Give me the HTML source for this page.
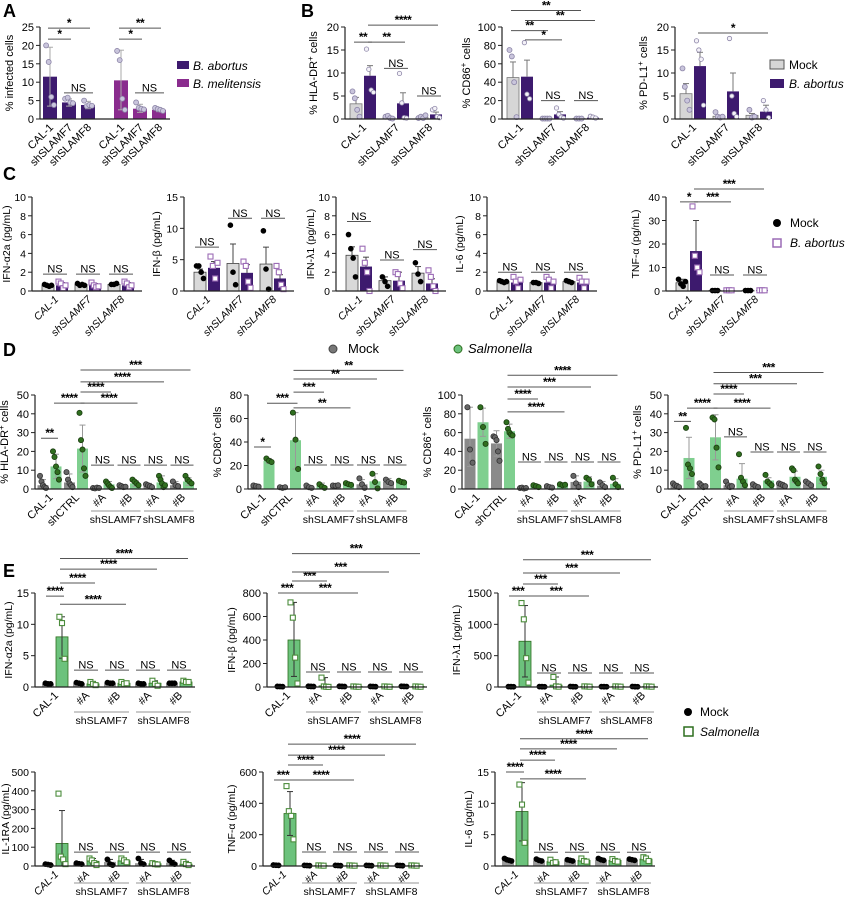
<!DOCTYPE html>
<html><head><meta charset="utf-8"><style>
html,body{margin:0;padding:0;background:#fff}
svg{display:block;font-family:"Liberation Sans",Arial,sans-serif}
</style></head><body>
<svg id="fig" width="845" height="900" viewBox="0 0 845 900" xmlns="http://www.w3.org/2000/svg">
<g font-weight="bold" font-size="18">
<text x="3" y="17">A</text>
<text x="301" y="17">B</text>
<text x="3" y="180">C</text>
<text x="3" y="356">D</text>
<text x="3" y="577">E</text>
</g>
<g font-size="12">
<rect x="177" y="61" width="12" height="8" fill="#3d1a6e"/>
<text x="193" y="70" font-style="italic">B. abortus</text>
<rect x="177" y="79" width="12" height="8" fill="#8a2c8e"/>
<text x="193" y="88" font-style="italic">B. melitensis</text>
</g>
<g font-size="12">
<rect x="770" y="60" width="14" height="9" fill="#d6d6d6" stroke="#555"/>
<text x="789" y="69">Mock</text>
<rect x="770" y="79" width="14" height="9" fill="#3d1a6e"/>
<text x="789" y="88" font-style="italic">B. abortus</text>
</g>
<g font-size="12">
<circle cx="777" cy="223" r="4" fill="#000"/>
<text x="790" y="227">Mock</text>
<rect x="773" y="239" width="8" height="8" fill="#fff" stroke="#9b6bb5" stroke-width="1.5"/>
<text x="790" y="247" font-style="italic">B. abortus</text>
</g>
<g font-size="13">
<circle cx="333" cy="349" r="4" fill="#777" stroke="#444"/>
<text x="348" y="353">Mock</text>
<circle cx="458" cy="349" r="4" fill="#6cc27c" stroke="#2d6e1e"/>
<text x="468" y="353" font-style="italic">Salmonella</text>
</g>
<g font-size="12">
<circle cx="688" cy="712" r="4" fill="#000"/>
<text x="700" y="716">Mock</text>
<rect x="684" y="727" width="9" height="9" fill="#fff" stroke="#2d6e1e" stroke-width="1.5"/>
<text x="700" y="736" font-style="italic">Salmonella</text>
</g>
</svg>
<script>
// ---------- DATA ----------
const A_cats=['CAL-1','shSLAMF7','shSLAMF8','CAL-1','shSLAMF7','shSLAMF8'];
const A_means=[11.5,4.5,3.8,10.5,2.8,2.5];
const A_hi=[19.5,5.5,4.8,18.7,4,3];
const A_lo=[3.5,3.5,2.8,2.5,1.8,2];
const A_pts=[[20,15.5,6,3.8],[5.5,5.8,4.5,4.3],[5,3.5,3.8,3.6],[18.5,16,5.5,2.5],[4.5,3,2.8,2.6],[3,2.7,2.5,2.2]];
const A_br=[[0,1,21.7,'*'],[0,2,24.7,'*'],[1,2,7.1,'NS'],[3,4,21.7,'*'],[3,5,24.7,'**'],[4,5,7.1,'NS']];

const B_cats=['CAL-1','shSLAMF7','shSLAMF8'];
const B1_means=[3.3,9.4,0.3,3.4,0.3,1];
const B1_hi=[4.7,11.6,0.4,5.7,0.4,1.5];
const B1_pts=[[6,4.5,2,0.5],[15.2,10.8,6.3,5.8],[0.5,0.7,0.2,0.1],[9.9,3.5,0.3,0.2],[0.2,0.5,0.2,0.8],[2,2.3,0.5,0.3]];
const B1_br=[[0,1,16.7,'**'],[1,3,16.7,'**'],[1,5,20.4,'****'],[2,3,11,'NS'],[4,5,5,'NS']];
const B2_means=[45,46,0.5,5,0.5,1.5];
const B2_hi=[62,64,0.6,8,0.6,2.5];
const B2_pts=[[75,68,40,2],[83,27,22],[0.5,0.5,0.5,0.5],[12,5,2,1],[0.5,0.5,0.5],[3,2,1]];
const B2_br=[[0,4,118,'**'],[1,5,107,'**'],[0,2,96,'**'],[1,3,86,'*'],[2,3,20,'NS'],[4,5,20,'NS']];
const B3_means=[5.5,11.5,0.6,6,0.8,1.6];
const B3_hi=[7.7,14.5,0.8,10,1.2,3];
const B3_pts=[[11,7,4,2],[17,15,13,3],[1.5,0.5,0.3,0.5],[17.5,5,1.2,0.5],[2,0.3,0.5],[4,2,0.3]];
const B3_br=[[1,5,18.7,'*']];

const C1_means=[0.6,0.6,0.7,0.6,0.7,0.6];
const C1_hi=[0.7,0.9,0.8,0.8,0.8,0.9];
const C1_pts=[[0.7,0.6,0.5,0.6],[1,0.8,0.3,0.6],[0.8,0.6,0.7,0.6],[0.9,0.6,0.4,0.5],[0.7,0.7,0.8],[1,0.8,0.4,0.6]];
const C1_br=[[0,1,1.8,'NS'],[2,3,1.8,'NS'],[4,5,1.8,'NS']];
const C2_means=[3,3.7,4.4,2.9,4.3,2];
const C2_hi=[3.5,4.7,7.5,4.2,7,2.6];
const C2_pts=[[4,4,3,2],[5.5,4,2,4.5],[10.5,3,1],[4.7,4,1.5,0.5],[9.6,3.5,0.3],[4,3,1,0.3]];
const C2_br=[[0,1,7,'NS'],[2,3,11.6,'NS'],[4,5,11.6,'NS']];
const C3_means=[3.8,2.6,1.1,1.1,1.9,0.8];
const C3_hi=[4.7,3.6,1.5,2,2.6,1.3];
const C3_pts=[[6,4.5,3.5,1.5],[4.5,3,2,0],[1.5,1,0.5],[2,1.8,0.8,0.3],[3,1.8,1],[2.2,1.5,0.5,0]];
const C3_br=[[0,1,7.4,'NS'],[2,3,3.3,'NS'],[4,5,4.4,'NS']];
const C4_means=[1,0.9,0.9,0.9,1,0.9];
const C4_hi=[1.1,1.2,1,1.2,1.1,1.2];
const C4_pts=[[1.1,1,0.9,1],[1.5,1,0.3,1.2],[0.9,0.9,0.8],[1.5,1.2,0.3,1],[1.1,1,0.9],[1.4,1,0.3,1]];
const C4_br=[[0,1,2,'NS'],[2,3,2,'NS'],[4,5,2,'NS']];
const C5_means=[3.5,17,0.2,0.3,0.2,0.3];
const C5_hi=[5,30,0.3,0.4,0.3,0.4];
const C5_pts=[[5,3,2,4],[36,15,10,8],[0.2,0.2,0.2],[0.3,0.3,0.3],[0.2,0.2,0.2],[0.3,0.3,0.3]];
const C5_br=[[0,1,37.9,'*'],[1,3,37.9,'***'],[1,5,43.4,'***'],[2,3,6.8,'NS'],[4,5,6.8,'NS']];

const D_cats=['CAL-1','shCTRL','#A','#B','#A','#B'];
const D1_means=[2,12,3.5,21.5,0.5,2.5,1.5,3,2,3.5,2,4];
const D1_hi=[5,18.5,8,34,0.8,4,2,4.5,3,7,4,6];
const D1_lo=[0,5.5,0,9,0.2,1,1,1.5,1,0,0,2];
const D1_pts=[[7,4,2,1,0.5],[20,17,12,9,5],[9,5,3,2,1],[40.5,26,21,11,7],[0.5,0.3,0.7,0.5],[4,3,2,1,0.5],[2,1.5,1,1.2],[5,4,3,2],[2.5,2,1.5,1],[7,5,3,1,2],[4,2,1.5],[7,5,4,3]];
const D1_br=[[3,11,63.3,'***'],[3,9,57,'****'],[3,5,51.6,'****'],[1,3,45.7,'****'],[3,7,45.7,'****'],[0,1,27,'**'],[4,5,12.7,'NS'],[6,7,12.7,'NS'],[8,9,12.7,'NS'],[10,11,12.7,'NS']];
const D2_means=[2.5,24,1.5,41.5,1.5,2.5,3,4,4,6.5,6,6.5];
const D2_hi=[3.5,26,2,65,3,5,3.5,5,8,13,9,8];
const D2_lo=[1.5,22,1,17,0.5,0,2.5,3,0,0,3,5];
const D2_pts=[[3,2.5,2],[26,24,23],[1.5,1,1.5],[65,42,17],[3,1.5,1],[4,2,1],[3,2.8,3.2],[5,4,3.5],[9,4,1],[13,6,0.5],[8,6,5],[7,6,5.5]];
const D2_br=[[3,11,101,'**'],[3,9,93.6,'**'],[3,5,82.5,'***'],[1,3,73,'***'],[3,7,69,'**'],[0,1,35.7,'*'],[4,5,20.4,'NS'],[6,7,20.4,'NS'],[8,9,20.4,'NS'],[10,11,20.4,'NS']];
const D3_means=[53.5,71,48.5,61.5,1,3,2,4,7.5,8,3.5,5.5];
const D3_hi=[87,86,62,69,2,5,3,5,14,13,8,11];
const D3_lo=[24,56,35,54,0.5,1,1,3,1,3,0,0];
const D3_pts=[[87,42,28],[87,66,48],[56,55,52,40,30],[71,64,60,58,57],[1,1.5,0.5,1],[4,3,2],[3,2,1.5],[5,4,4.5],[14,6,2],[12,10,5],[7,4,2],[12,5,2]];
const D3_br=[[3,11,121,'****'],[3,9,108.5,'***'],[3,5,95.7,'****'],[3,7,82,'****'],[4,5,28.7,'NS'],[6,7,28.7,'NS'],[8,9,28.7,'NS'],[10,11,28.7,'NS']];
const D4_means=[2,16.5,1.5,27.5,2,5.5,1.5,4.5,2.5,6.5,2.5,6.5];
const D4_hi=[3,27.5,2.5,39.5,3,13.5,2,6,3.5,9.5,3.5,10];
const D4_lo=[1,5.5,0.5,15.5,1,0,1,3,1.5,3.5,1.5,3];
const D4_pts=[[3,2,1.5,1],[32.5,13,11,8],[3,2,1,1.5],[38,37,22,11.5],[4,2,1,1.5],[18.5,6,4,2],[2.5,1.5,1],[7.5,4,3,2],[3,2.5,2,1.5],[11,10,5,4,3],[4,3,2],[12,8,5,3]];
const D4_br=[[3,11,62,'***'],[3,9,56,'***'],[3,5,50.5,'****'],[1,3,43,'****'],[3,7,43,'****'],[0,1,36,'**'],[4,5,27.7,'NS'],[6,7,19.7,'NS'],[8,9,19.7,'NS'],[10,11,19.7,'NS']];

const E_cats=['CAL-1','#A','#B','#A','#B'];
const E1_means=[0.5,8,0.6,0.5,0.6,0.6,0.5,0.6,0.6,0.8];
const E1_hi=[0.6,11.2,0.7,0.8,0.7,0.7,0.6,1,0.6,1];
const E1_lo=[0.4,4.6,0.5,0.3,0.5,0.5,0.4,0.3,0.5,0.6];
const E1_pts=[[0.6,0.5,0.5],[11.2,10.2,4.5],[0.7,0.6,0.5],[0.8,0.5,0.3],[0.7,0.6,0.6],[0.8,0.5,0.6],[0.6,0.5,0.5],[1,0.5,0.2],[0.6,0.6,0.6],[1,0.8,0.8]];
const E1_br=[[0,1,14.5,'****'],[1,5,13.2,'****'],[1,3,16.6,'****'],[1,7,18.8,'****'],[1,9,20.5,'****'],[2,3,2.7,'NS'],[4,5,2.7,'NS'],[6,7,2.7,'NS'],[8,9,2.7,'NS']];
const E2_means=[5,400,5,10,5,5,5,5,5,5];
const E2_hi=[8,720,10,80,8,8,8,8,8,8];
const E2_lo=[3,90,3,0,3,3,3,3,3,3];
const E2_pts=[[5,4,3],[720,590,250,30],[6,5,4],[80,5,2,1],[6,5,4],[5,3,2],[5,4,3],[5,3,2],[6,5,4],[5,3,2]];
const E2_br=[[0,1,800,'***'],[1,5,800,'***'],[1,3,902,'***'],[1,7,979,'***'],[1,9,1135,'***'],[2,3,128,'NS'],[4,5,128,'NS'],[6,7,128,'NS'],[8,9,128,'NS']];
const E3_means=[5,730,5,30,5,10,5,10,5,10];
const E3_hi=[8,1300,8,160,8,15,8,15,8,15];
const E3_lo=[3,160,3,0,3,5,3,5,3,5];
const E3_pts=[[6,5,4],[1340,1080,460,70],[6,5,4],[160,10,5],[8,5,4],[10,8,5],[6,5,4],[10,8,5],[8,5,4],[10,8,5]];
const E3_br=[[0,1,1452,'***'],[1,5,1452,'***'],[1,3,1643,'***'],[1,7,1819,'***'],[1,9,2030,'***'],[2,3,223,'NS'],[4,5,223,'NS'],[6,7,223,'NS'],[8,9,223,'NS']];
const E4_means=[8,120,12,25,22,28,15,12,18,10];
const E4_hi=[12,295,15,40,35,42,35,18,30,25];
const E4_lo=[4,0,9,10,9,14,0,6,6,0];
const E4_pts=[[10,8,5],[385,50,35,10],[15,12,10],[40,30,15,5],[35,10,5],[40,30,20],[40,15,10],[15,10,8],[30,18,10],[22,10,5]];
const E4_br=[[2,3,74,'NS'],[4,5,74,'NS'],[6,7,74,'NS'],[8,9,74,'NS']];
const E5_means=[5,335,3,3,3,3,3,3,3,3];
const E5_hi=[7,475,4,4,4,4,4,4,4,4];
const E5_lo=[3,195,2,2,2,2,2,2,2,2];
const E5_pts=[[6,5,4],[510,350,320,170],[4,3,2],[4,3,2],[4,3,2],[4,3,2],[4,3,2],[4,3,2],[4,3,2],[4,3,2]];
const E5_br=[[0,1,549,'***'],[1,5,549,'****'],[1,3,645,'****'],[1,7,708,'****'],[1,9,778,'****'],[2,3,89,'NS'],[4,5,89,'NS'],[6,7,89,'NS'],[8,9,89,'NS']];
const E6_means=[1,8.7,0.9,0.7,0.9,0.9,1,0.9,1,1.1];
const E6_hi=[1.2,13.3,1.1,1,1,1.1,1.2,1.2,1.1,1.4];
const E6_lo=[0.8,4,0.7,0.4,0.8,0.7,0.8,0.6,0.9,0.8];
const E6_pts=[[1.2,1,0.9,0.8],[13,9.8,3.7],[1.1,0.9,0.8],[1,0.5,0.6],[1,0.9,0.8],[1.2,0.8,0.7],[1.2,1,0.9],[1.1,0.8,0.7],[1.1,1,0.9],[1.4,1.2,0.8]];
const E6_br=[[0,1,15,'****'],[1,5,13.9,'****'],[1,3,16.9,'****'],[1,7,18.7,'****'],[1,9,20.3,'****'],[2,3,2.2,'NS'],[4,5,2.2,'NS'],[6,7,2.2,'NS'],[8,9,2.2,'NS']];

// ---------- DRAWING ----------
const NS='http://www.w3.org/2000/svg';
const fig=document.getElementById('fig');
function mk(tag,attrs,parent){const e=document.createElementNS(NS,tag);for(const k in attrs)e.setAttribute(k,attrs[k]);(parent||fig).appendChild(e);return e;}

function drawChart(c){
  const g=mk('g',{});
  
  
  const yS=v=>c.y0-v/c.max*(c.y0-c.yt);
  const xS=c.xf||(i=>c.ax+c.first+Math.floor(i/2)*c.sp+(i%2)*c.off);
  c.means.forEach((m,i)=>{
    const st=c.styles[c.single?c.seriesOf[i]:i%2];
    const x=xS(i);
    const r=mk('rect',{x:x-c.bw/2,y:yS(m),width:c.bw,height:Math.max(0,c.y0-yS(m)),fill:st.bar,stroke:st.barStroke||'none','stroke-width':0.8},g);
    
    
    const hi=c.hi[i];
    mk('line',{x1:x,x2:x,y1:yS(m),y2:yS(hi),stroke:st.err,'stroke-width':1},g);
    mk('line',{x1:x-3,x2:x+3,y1:yS(hi),y2:yS(hi),stroke:st.err,'stroke-width':1},g);
    if(c.lo){const lo=c.lo[i];
      mk('line',{x1:x,x2:x,y1:yS(m),y2:yS(lo),stroke:st.err,'stroke-width':1},g);
      mk('line',{x1:x-3,x2:x+3,y1:yS(lo),y2:yS(lo),stroke:st.err,'stroke-width':1},g);}
    const pts=c.pts[i];
    const sp=pts.length>1?Math.min(2.6,(c.bw-5)/(pts.length-1)):0;
    pts.forEach((v,k)=>{
      const px=x+(k-(pts.length-1)/2)*sp;
      let p;
      if(st.shape==='sq') p=mk('rect',{x:px-2.5,y:yS(v)-2.5,width:5,height:5,fill:st.pf,stroke:st.ps,'stroke-width':1.1},g);
      else p=mk('circle',{cx:px,cy:yS(v),r:st.r||2.5,fill:st.pf,stroke:st.ps,'stroke-width':0.8},g);
      
      
    });
  });
  mk('line',{x1:c.ax,x2:c.ax,y1:c.yt,y2:c.y0,stroke:'#222','stroke-width':1.2},g);
  mk('line',{x1:c.ax,x2:c.xEnd,y1:c.y0,y2:c.y0,stroke:'#222','stroke-width':1.2},g);
  for(let v=0;v<=c.max+1e-9;v+=c.step){
    mk('line',{x1:c.ax-4,x2:c.ax,y1:yS(v),y2:yS(v),stroke:'#222','stroke-width':1},g);
    const t=mk('text',{x:c.ax-6,y:yS(v)+4,'text-anchor':'end','font-size':c.tfs||11},g);
    t.textContent=v;
  }
  const yt=mk('text',{transform:`translate(${c.ax-c.ytOff},${(c.y0+c.yt)/2}) rotate(-90)`,'text-anchor':'middle','font-size':c.yfs||11},g);
  
  
  c.ytitle.forEach(p=>{const s=mk('tspan',p[1]?{'baseline-shift':'super','font-size':8}:{},yt);s.textContent=p[0];});
  c.cats.forEach((lab,gi)=>{
    let cx;
    if(c.single) cx=xS(gi); else cx=(xS(gi*2)+xS(gi*2+1))/2;
    const t=mk('text',{transform:`translate(${cx+4},${c.y0+9}) rotate(-45)`,'text-anchor':'end','font-size':c.xfs||11,'font-style':c.italic?'italic':'normal'},g);
    
    
    t.textContent=lab;
  });
  if(c.groups){c.groups.forEach(gr=>{
    const x1=xS(gr[0]*2)-5,x2=xS(gr[1]*2+1)+5;
    mk('line',{x1:x1,x2:x2,y1:c.gy,y2:c.gy,stroke:'#aaa','stroke-width':1.2},g);
    const t=mk('text',{x:(x1+x2)/2,y:c.gy+12,'text-anchor':'middle','font-size':10.5},g);
    
    
    t.textContent=gr[2];
  });}
  c.br.forEach(b=>{
    const isNS=b[3]==='NS';
    const x1=xS(b[0])-(isNS?5:2),x2=xS(b[1])+(isNS?5:2),y=yS(b[2]);
    mk('line',{x1:x1,x2:x2,y1:y,y2:y,stroke:'#555','stroke-width':1},g);
    const t=mk('text',{x:(x1+x2)/2,y:isNS?y-1.5:y-1,'text-anchor':'middle','font-size':isNS?11:12,'font-weight':isNS?'normal':'bold','letter-spacing':isNS?0:-0.5},g);
    
    
    t.textContent=b[3];
  });
}

const PUR='#3d1a6e',MAG='#8a2c8e';
const stA=[{bar:PUR,err:'#aaa',pf:'#c9c5dc',ps:'#8d86a8'},{bar:MAG,err:'#aaa',pf:'#c9c5dc',ps:'#8d86a8'}];
drawChart({name:'chart-a-infected',ax:40,y0:119,yt:27,max:25,step:5,xEnd:170,bw:14,single:true,seriesOf:[0,0,0,1,1,1],
  xf:i=>50+i*19+(i>=3?14:0),styles:stA,means:A_means,hi:A_hi,lo:A_lo,pts:A_pts,br:A_br,cats:A_cats,
  ytitle:[['% infected cells']],ytOff:27});

const stB=[{bar:'#d6d6d6',barStroke:'#777',err:'#777',pf:'#c9c5dc',ps:'#8d86a8'},{bar:PUR,err:'#777',pf:'#f4f2f8',ps:'#8d86a8',r:2.2}];
const Bl={y0:119,yt:27,first:11,off:14,sp:33,bw:12,styles:stB,cats:B_cats,ytOff:28};
drawChart(Object.assign({},Bl,{name:'chart-b-hla-dr',ax:345,max:20,step:5,xEnd:440,means:B1_means,hi:B1_hi,pts:B1_pts,br:B1_br,ytitle:[['% HLA-DR'],['+',1],[' cells']]}));
drawChart(Object.assign({},Bl,{name:'chart-b-cd86',ax:502,max:100,step:20,xEnd:603,means:B2_means,hi:B2_hi,pts:B2_pts,br:B2_br,ytitle:[['% CD86'],['+',1],[' cells']],ytOff:32}));
drawChart(Object.assign({},Bl,{name:'chart-b-pd-l1',ax:675,max:20,step:5,xEnd:768,means:B3_means,hi:B3_hi,pts:B3_pts,br:B3_br,ytitle:[['% PD-L1'],['+',1],[' cells']]}));

const stC=[{bar:'#d9d9d9',barStroke:'#444',err:'#444',pf:'#000',ps:'#000',r:2.4},{bar:PUR,err:'#444',shape:'sq',pf:'#fff',ps:'#9b6bb5'}];
const Cl={y0:291,yt:197,first:16,off:14,sp:33,bw:12,styles:stC,cats:B_cats,italic:true,ytOff:22,tfs:10.5,xfs:10.5,yfs:10.5};
drawChart(Object.assign({},Cl,{name:'chart-c-ifn-a2a',ax:32,max:10,step:2,xEnd:142,means:C1_means,hi:C1_hi,pts:C1_pts,br:C1_br,ytitle:[['IFN-α2a (pg/mL)']]}));
drawChart(Object.assign({},Cl,{name:'chart-c-ifn-b',ax:184,max:15,step:5,xEnd:294,means:C2_means,hi:C2_hi,pts:C2_pts,br:C2_br,ytitle:[['IFN-β (pg/mL)']],ytOff:24}));
drawChart(Object.assign({},Cl,{name:'chart-c-ifn-l1',ax:336,max:10,step:2,xEnd:446,means:C3_means,hi:C3_hi,pts:C3_pts,br:C3_br,ytitle:[['IFN-λ1 (pg/mL)']]}));
drawChart(Object.assign({},Cl,{name:'chart-c-il-6',ax:487,max:10,step:2,xEnd:597,means:C4_means,hi:C4_hi,pts:C4_pts,br:C4_br,ytitle:[['IL-6 (pg/mL)']],ytOff:24}));
drawChart(Object.assign({},Cl,{name:'chart-c-tnf-a',ax:666,max:40,step:10,xEnd:742,means:C5_means,hi:C5_hi,pts:C5_pts,br:C5_br,ytitle:[['TNF-α (pg/mL)']],ytOff:27}));

const stD=[{bar:'#8a8a8a',err:'#999',pf:'#666',ps:'#333',r:2.6},{bar:'#7fcf8f',err:'#999',pf:'#2f6e1f',ps:'#1a3d10',r:2.6}];
const Dl={y0:489,yt:395,first:8,off:13,sp:26.5,bw:11,styles:stD,cats:D_cats,groups:[[2,3,'shSLAMF7'],[4,5,'shSLAMF8']],gy:511,ytOff:27};
drawChart(Object.assign({},Dl,{name:'chart-d-hla-dr',ax:35,max:50,step:10,xEnd:197,means:D1_means,hi:D1_hi,lo:D1_lo,pts:D1_pts,br:D1_br,ytitle:[['% HLA-DR'],['+',1],[' cells']]}));
drawChart(Object.assign({},Dl,{name:'chart-d-cd80',ax:248,max:80,step:20,xEnd:410,means:D2_means,hi:D2_hi,lo:D2_lo,pts:D2_pts,br:D2_br,ytitle:[['% CD80'],['+',1],[' cells']]}));
drawChart(Object.assign({},Dl,{name:'chart-d-cd86',ax:462,max:100,step:20,xEnd:624,means:D3_means,hi:D3_hi,lo:D3_lo,pts:D3_pts,br:D3_br,ytitle:[['% CD86'],['+',1],[' cells']],ytOff:31}));
drawChart(Object.assign({},Dl,{name:'chart-d-pd-l1',ax:668,max:50,step:10,xEnd:830,means:D4_means,hi:D4_hi,lo:D4_lo,pts:D4_pts,br:D4_br,ytitle:[['% PD-L1'],['+',1],[' cells']]}));

const stE=[{bar:'#9a9a9a',err:'#333',pf:'#000',ps:'#000',r:2.5},{bar:'#6cc27c',barStroke:'#2d6e1e',err:'#333',shape:'sq',pf:'#fff',ps:'#4c8c3c'}];
const El={first:13,off:14,sp:31,bw:12,styles:stE,cats:E_cats,groups:[[1,2,'shSLAMF7'],[3,4,'shSLAMF8']],ytOff:27,yfs:10.5};
const E1r={y0:687,yt:593,gy:712};
const E2r={y0:866,yt:772,gy:883,italic:true,tfs:10.5,xfs:10.5};
drawChart(Object.assign({},El,E1r,{name:'chart-e-ifn-a2a',ax:35,max:15,step:5,xEnd:195,means:E1_means,hi:E1_hi,lo:E1_lo,pts:E1_pts,br:E1_br,ytitle:[['IFN-α2a (pg/mL)']],ytOff:23}));
drawChart(Object.assign({},El,E1r,{name:'chart-e-ifn-b',ax:267,max:800,step:200,xEnd:427,means:E2_means,hi:E2_hi,lo:E2_lo,pts:E2_pts,br:E2_br,ytitle:[['IFN-β (pg/mL)']],ytOff:32}));
drawChart(Object.assign({},El,E1r,{name:'chart-e-ifn-l1',ax:498,max:1500,step:500,xEnd:658,means:E3_means,hi:E3_hi,lo:E3_lo,pts:E3_pts,br:E3_br,ytitle:[['IFN-λ1 (pg/mL)']],ytOff:38}));
drawChart(Object.assign({},El,E2r,{name:'chart-e-il-1ra',ax:35,max:500,step:100,xEnd:195,means:E4_means,hi:E4_hi,lo:E4_lo,pts:E4_pts,br:E4_br,ytitle:[['IL-1RA (pg/mL)']],ytOff:26}));
drawChart(Object.assign({},El,E2r,{name:'chart-e-tnf-a',ax:263,max:600,step:200,xEnd:423,means:E5_means,hi:E5_hi,lo:E5_lo,pts:E5_pts,br:E5_br,ytitle:[['TNF-α (pg/mL)']],ytOff:28}));
drawChart(Object.assign({},El,E2r,{name:'chart-e-il-6',ax:495,max:15,step:5,xEnd:655,means:E6_means,hi:E6_hi,lo:E6_lo,pts:E6_pts,br:E6_br,ytitle:[['IL-6 (pg/mL)']],ytOff:23}));
</script>
</body></html>
